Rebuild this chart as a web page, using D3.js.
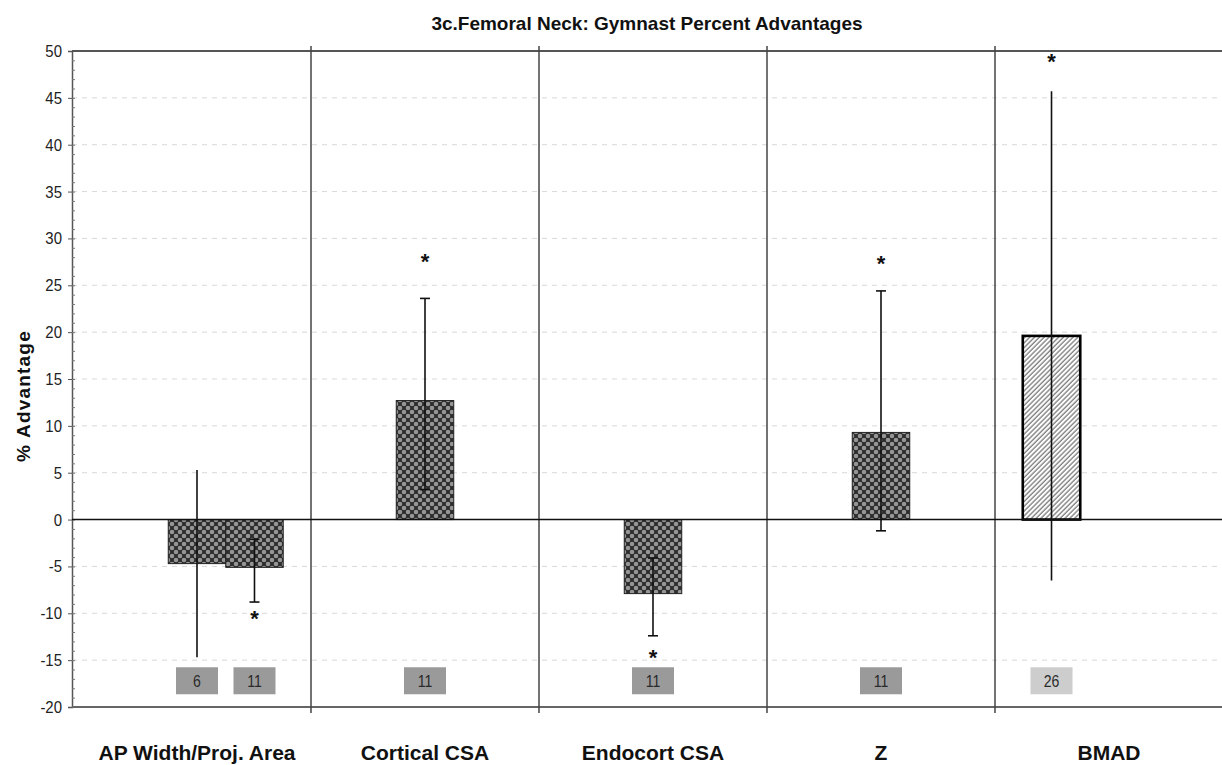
<!DOCTYPE html>
<html>
<head>
<meta charset="utf-8">
<script src="https://cdn.jsdelivr.net/npm/d3@7"></script>
<style>
  html, body { margin: 0; padding: 0; background: #fff; }
  svg { display: block; }
  text { font-family: "Liberation Sans", Arial, sans-serif; }
</style>
</head>
<body>
<svg id="chart" width="1222" height="765"></svg>
<script>
// ---- data ----
const categories = ["AP Width/Proj. Area", "Cortical CSA", "Endocort CSA", "Z", "BMAD"];
const barCategory = [0, 0, 1, 2, 3, 4];
const barSlot     = [1, 2, 1, 1, 1, 0];
const barValues   = [-4.7, -5.1, 12.7, -7.9, 9.3, 19.6];
const errLow      = [-14.7, -8.8, 3.2, -12.4, -1.2, -6.5];
const errHigh     = [5.3, -2.1, 23.6, -4.1, 24.4, 45.7];
const errCapped   = [false, true, true, true, true, false];
const starValues  = [null, -10.4, 27.7, -14.6, 27.5, 49.0];
const sampleSizes = ["6", "11", "11", "11", "11", "26"];
const barFill     = ["check", "check", "check", "check", "check", "hatch"];
const yTicks = [-20, -15, -10, -5, 0, 5, 10, 15, 20, 25, 30, 35, 40, 45, 50];

// ---- layout ----
const svg = d3.select("#chart");
const plotLeft = 72, plotRight = 1222, plotTop = 51, plotBottom = 707;
const narrow = 0.88; // condensed numerals

const y = d3.scaleLinear().domain([-20, 50]).range([plotBottom, plotTop]);
const x = d3.scaleBand().domain(d3.range(categories.length)).range([83, 1223]).padding(0);
const xSlot = d3.scaleBand().domain([0, 1, 2]).range([0, x.bandwidth()])
  .paddingInner(0).paddingOuter(0.483);

// ---- fills ----
const defs = svg.append("defs");
const chk = defs.append("pattern").attr("id", "check")
  .attr("patternUnits", "userSpaceOnUse").attr("width", 8).attr("height", 8);
chk.append("rect").attr("width", 8).attr("height", 8).attr("fill", "#2b2b2b");
[[4, 4], [0, 0], [8, 0], [0, 8], [8, 8]].forEach(([cx, cy]) =>
  chk.append("circle").attr("cx", cx).attr("cy", cy).attr("r", 2.3).attr("fill", "#959595"));

const hatch = defs.append("pattern").attr("id", "hatch")
  .attr("patternUnits", "userSpaceOnUse").attr("width", 3.4).attr("height", 10)
  .attr("patternTransform", "rotate(45)");
hatch.append("rect").attr("width", 3.4).attr("height", 10).attr("fill", "#fff");
hatch.append("line").attr("x1", 1).attr("x2", 1).attr("y1", 0).attr("y2", 10)
  .attr("stroke", "#7a7a7a").attr("stroke-width", 1.3);

// ---- title ----
svg.append("text")
  .attr("x", 647).attr("y", 30)
  .attr("text-anchor", "middle").attr("font-size", 19).attr("font-weight", "bold")
  .attr("fill", "#111")
  .text("3c.Femoral Neck: Gymnast Percent Advantages");

// ---- gridlines ----
svg.append("g").selectAll("line")
  .data(yTicks.filter(t => t !== 0 && t !== 50 && t !== -20))
  .join("line")
  .attr("x1", plotLeft).attr("x2", plotRight)
  .attr("y1", d => y(d)).attr("y2", d => y(d))
  .attr("stroke", "#d9d9d9").attr("stroke-width", 1)
  .attr("stroke-dasharray", "5,5");

// ---- y axis ----
const yAxis = d3.axisLeft(y).tickValues(yTicks).tickSize(4).tickPadding(6)
  .tickFormat(d => String(d));
const yg = svg.append("g").attr("transform", `translate(${plotLeft},0)`).call(yAxis);
yg.select(".domain").attr("stroke", "#555").attr("stroke-width", 1.5);
yg.selectAll(".tick line").attr("stroke", "#555");
yg.selectAll(".tick text")
  .attr("font-size", 17).attr("fill", "#222")
  .attr("font-family", "'Liberation Sans', Arial, sans-serif")
  .attr("transform", `scale(${narrow},1)`)
  .attr("x", -10 / narrow);
// minor ticks every 1 unit on the inside
const minorAxis = d3.axisRight(y).tickValues(d3.range(-20, 51, 1)).tickSize(3).tickFormat("");
const mg = svg.append("g").attr("transform", `translate(${plotLeft},0)`).call(minorAxis);
mg.select(".domain").remove();
mg.selectAll(".tick line").attr("stroke", "#777");

// top border and bottom axis line
svg.append("line").attr("x1", plotLeft).attr("x2", plotRight)
  .attr("y1", y(50)).attr("y2", y(50)).attr("stroke", "#555").attr("stroke-width", 2);
svg.append("line").attr("x1", plotLeft).attr("x2", plotRight)
  .attr("y1", y(-20)).attr("y2", y(-20)).attr("stroke", "#666").attr("stroke-width", 2);

// category dividers
svg.append("g").selectAll("line")
  .data(d3.range(1, categories.length))
  .join("line")
  .attr("x1", d => x(d)).attr("x2", d => x(d))
  .attr("y1", plotTop - 5).attr("y2", plotBottom + 6)
  .attr("stroke", "#444").attr("stroke-width", 1.5);

// ---- bars ----
const bars = barValues.map((v, i) => ({
  v, cat: barCategory[i], slot: barSlot[i], lo: errLow[i], hi: errHigh[i],
  cap: errCapped[i], star: starValues[i], n: sampleSizes[i], fill: barFill[i]
}));
const bx = d => x(d.cat) + xSlot(d.slot);
const bw = xSlot.bandwidth();

svg.append("g").selectAll("rect")
  .data(bars)
  .join("rect")
  .attr("x", d => bx(d))
  .attr("y", d => y(Math.max(0, d.v)))
  .attr("width", bw)
  .attr("height", d => Math.abs(y(d.v) - y(0)))
  .attr("fill", d => `url(#${d.fill})`)
  .attr("stroke", d => d.fill === "hatch" ? "#000" : "#222")
  .attr("stroke-width", d => d.fill === "hatch" ? 2.6 : 1);

// zero line
svg.append("line").attr("x1", plotLeft).attr("x2", plotRight)
  .attr("y1", y(0)).attr("y2", y(0)).attr("stroke", "#111").attr("stroke-width", 1.5);

// ---- error bars ----
const eg = svg.append("g").attr("stroke", "#111").attr("stroke-width", 1.6);
bars.forEach(d => {
  const cx = bx(d) + bw / 2;
  eg.append("line").attr("x1", cx).attr("x2", cx).attr("y1", y(d.lo)).attr("y2", y(d.hi));
  if (d.cap) {
    [d.lo, d.hi].forEach(v =>
      eg.append("line").attr("x1", cx - 5).attr("x2", cx + 5).attr("y1", y(v)).attr("y2", y(v)));
  }
});

// significance stars
svg.append("g").selectAll("text")
  .data(bars.filter(d => d.star !== null))
  .join("text")
  .attr("x", d => bx(d) + bw / 2)
  .attr("y", d => y(d.star) + 9)
  .attr("text-anchor", "middle").attr("font-size", 22).attr("font-weight", "bold")
  .attr("fill", "#111")
  .text("*");

// sample size boxes
const nBoxValue = -17.2;
const ng = svg.append("g").selectAll("g")
  .data(bars)
  .join("g")
  .attr("transform", d => `translate(${bx(d) + bw / 2},${y(nBoxValue)})`);
ng.append("rect")
  .attr("x", -21).attr("y", -13.5).attr("width", 42).attr("height", 27)
  .attr("fill", d => d.fill === "hatch" ? "#cdcdcd" : "#9a9a9a");
ng.append("text")
  .attr("transform", `scale(${narrow},1)`)
  .attr("text-anchor", "middle").attr("dy", "0.36em")
  .attr("font-size", 16).attr("fill", "#2a2a2a")
  .text(d => d.n);

// ---- category labels ----
svg.append("g").selectAll("text")
  .data(categories)
  .join("text")
  .attr("x", (d, i) => x(i) + x.bandwidth() / 2)
  .attr("y", 760)
  .attr("text-anchor", "middle").attr("font-size", 21).attr("font-weight", "bold")
  .attr("fill", "#111")
  .text(d => d);

// ---- y axis title ----
svg.append("text")
  .attr("transform", `translate(30,396) rotate(-90)`)
  .attr("text-anchor", "middle").attr("font-size", 19).attr("font-weight", "bold")
  .attr("letter-spacing", 1.2).attr("fill", "#111")
  .text("% Advantage");
</script>
</body>
</html>
